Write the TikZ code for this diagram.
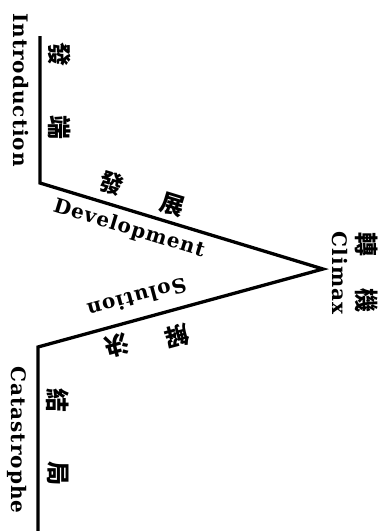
\documentclass[tikz,border=0pt]{standalone}
\usepackage{fontspec}
\newfontfamily\lat[LetterSpace=5]{DejaVu Serif}
\newfontfamily\cjk{Noto Sans CJK TC}
\tikzset{
  plot/.style={line width=3.3pt, line join=miter, line cap=butt},
  en/.style={font=\lat\bfseries\fontsize{20}{22}\selectfont, inner sep=0pt},
  zh/.style={font=\cjk\bfseries\fontsize{24}{26}\selectfont, inner sep=0pt}
}
\begin{document}
\begin{tikzpicture}[x=1pt,y=-1pt]
\useasboundingbox (0,0) rectangle (389,531);
\coordinate (top) at (40,36);
\coordinate (a) at (40,183);
\coordinate (apex) at (323,269);
\coordinate (b) at (38,347);
\coordinate (bot) at (38,531);
\draw[plot] (top) -- (a) -- (apex) -- (b) -- (bot);
% Introduction
\node[en, rotate=-90, anchor=base] (intro) at (13,90) {Introduction};
\node[zh, rotate=-90] (intro1) at (60,54) {發};
\node[zh, rotate=-90] (intro2) at (60,127) {端};
% Development
\node[en, rotate=-17] (dev) at (129,229) {Development};
\node[zh, rotate=-17] (dev1) at (112,183) {發};
\node[zh, rotate=-17] (dev2) at (172,205) {展};
% Climax
\node[en, rotate=-90, anchor=base] (clim) at (332,273) {Climax};
\node[zh, rotate=-90] (clim1) at (367,244) {轉};
\node[zh, rotate=-90] (clim2) at (367,300) {機};
% Solution
\node[en, rotate=195] (sol) at (137,298) {Solution};
\node[zh, rotate=195] (sol1) at (177,336) {解};
\node[zh, rotate=195] (sol2) at (117,345) {決};
% Catastrophe
\node[en, rotate=-90, anchor=base] (cat) at (12,440) {Catastrophe};
\node[zh, rotate=-90] (cat1) at (58,400) {結};
\node[zh, rotate=-90] (cat2) at (58,473) {局};
\end{tikzpicture}
\end{document}
